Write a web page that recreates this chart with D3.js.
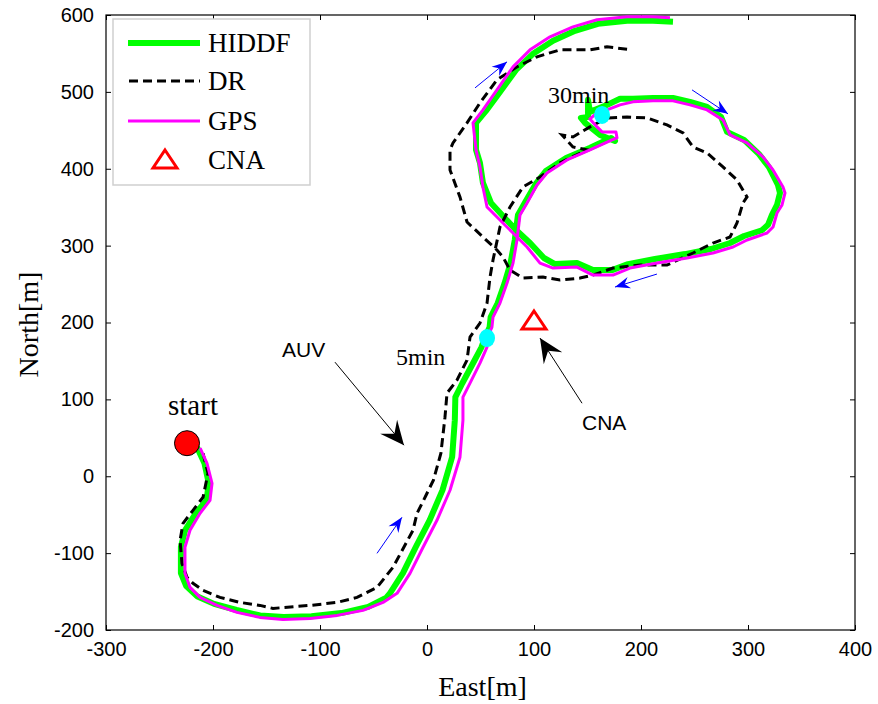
<!DOCTYPE html>
<html>
<head>
<meta charset="utf-8">
<script src="https://cdn.jsdelivr.net/npm/d3@7"></script>
<style>
body { margin: 0; background: #fff; }
</style>
</head>
<body>
<div id="chart"></div>
<script>
// tracks in metres [East, North]
const hiddfTrack = [
  [-215,38],[-208,17],[-204,-9],[-206,-31],[-216,-48],[-226,-70],[-230,-92],[-230,-126],
  [-225,-143],[-215,-156],[-199,-166],[-178,-174],[-156,-181],[-134,-183],[-108,-182],[-80,-178],
  [-55,-170],[-38,-158],[-34.5,-152],[-22.5,-126],[-10.5,-92],[2.5,-57],[14.5,-18],[23.5,25],
  [26,73],[26.5,103],[33,121],[43,147],[51,168],[54,180],[58.5,194],[59.5,207],[66,225],
  [72.5,251],[78,277],[82,307],[85,340],[92,357],[102,381],[111,397],[130,414],[152,427],
  [172,440],[175.7,436.2],[161.7,444],[147.7,459.6],[143.9,466.1],[150.5,467.4],[150.5,489.6],
  [152.3,474],[166.4,481.8],[180.4,491],[192.5,491],[211.2,492],[229.9,492],[245.8,487],
  [261.7,480.5],[274.8,467.5],[280.4,448],[296.3,437.5],[310.3,419],[319.6,402],[328,379],
  [329.9,368.5],[327.1,353],[322.4,340],[318.7,327],[313,320],[296.3,312.5],[283.2,303.4],
  [265.4,295.6],[241.1,289],[213,282.6],[187.9,276],[172.9,268.2],[155.1,268.2],[140.2,277.3],
  [119.6,276],[109.3,283.9],[96.3,303.4],[83.2,320.3],[71,338.5],[59.8,355.5],[52.3,381.5],
  [49.5,407.6],[45.8,424.5],[45.8,459.6],[55.1,475.3],[68.2,500],[83.2,528.6],[99.1,549.5],
  [117.8,566.4],[138.3,579.4],[159.8,588.5],[187,592.4],[211.2,592.4],[229.9,591.1]
]

const drTrack = [
  [-209.3,29.9],[-204.7,3.9],[-209.3,-27.3],[-218.7,-44.3],[-228,-61.2],[-230.8,-83.3],
  [-229,-113.3],[-224.3,-131.5],[-218.7,-139.3],[-209.3,-148.4],[-193.5,-157.6],[-174.8,-164.1],
  [-156.1,-168],[-143.9,-171.9],[-109.3,-168],[-84.1,-164.1],[-65.4,-157.6],[-46.7,-144.5],
  [-31.8,-118.5],[-13.1,-70.3],[-9.3,-48.2],[-1,-25],[6,-5],[13,30],[16.8,76.8],[18.7,108.1],
  [28,125],[37.4,151],[40.2,181],[49.5,199.2],[56.1,225.3],[58.9,259.1],[61.7,281.3],
  [68.2,324.2],[77.6,350.3],[89.7,376.3],[105.6,389.3],[124.3,407.6],[149.5,424.5],
  [136.4,428.4],[126.2,444],[136.4,441.4],[152.3,454.4],[168.2,466.1],[186.9,467.4],
  [205.6,466.1],[224.3,457],[239.3,446.6],[248.6,428.4],[261.7,420.6],[276.6,402.3],
  [289.7,385.4],[299.1,363.3],[295.3,355.5],[289.7,329.4],[283.2,311.2],[267.3,303.4],
  [248.6,290.4],[224.3,274.7],[199.1,274.7],[173.8,270.8],[155.1,261.7],[143,257.8],
  [124.3,255.2],[108.4,259.1],[89.7,257.8],[77.6,268.2],[71,285.2],[65.4,294.3],[52.3,311.2],
  [37.4,330.7],[30.8,363.3],[21.5,398.4],[21.5,424.5],[24.3,433.6],[37.4,459.6],[49.5,485.7],
  [65.4,515.6],[84.1,532.6],[102.8,545.6],[124.3,554.7],[152.3,554.7],[168.2,558.6],[191.6,554.7]
]

const gpsTrack = [
  [-212,36.5],[-205.6,16.9],[-200.9,-9.1],[-202.8,-31.3],[-212.1,-48.2],[-221.5,-70.3],
  [-226.2,-92.4],[-226.2,-126.3],[-221.5,-144.5],[-212.1,-157.6],[-196.3,-168],[-177.6,-177.1],
  [-156.1,-183.6],[-134.6,-186.2],[-109.3,-184.9],[-84.1,-181],[-59.8,-174.5],[-41.1,-164.1],
  [-28,-152.3],[-15.9,-126.3],[-3.7,-92.4],[9.3,-57.3],[21.5,-18.2],[30.8,24.7],[33.6,72.9],
  [33.6,102.9],[40.2,121.1],[49.5,147.1],[56.1,168],[56.1,179.7],[60.7,194],[61.7,207],
  [68.2,225.3],[74.8,251.3],[80.4,277.3],[84.1,307.3],[86.9,339.8],[93.5,355.5],[102.8,378.9],
  [112.1,394.5],[130.8,411.5],[152.3,424.5],[172.9,437.5],[177.6,440.1],[176.6,447.9],
  [163.6,447.9],[158.9,454.4],[152.3,464.8],[158.9,472.7],[168.2,476.6],[180.4,483.1],
  [192.5,487],[211.2,488.3],[229.9,488.3],[245.8,483.1],[261.7,476.6],[276.6,463.5],
  [283.2,444],[299.1,433.6],[314,415.4],[323.4,398.4],[332.7,376.3],[334.6,368.5],
  [331.8,352.9],[327.1,342.4],[323.4,324.2],[317.8,316.4],[299.1,307.3],[286,298.2],
  [267.3,290.4],[243,283.9],[215,277.3],[189.7,270.8],[173.8,261.7],[155.1,261.7],
  [140.2,272.1],[117.8,270.8],[105.6,277.3],[93.5,298.2],[80.4,316.4],[68.2,333.3],
  [56.1,350.3],[52.3,376],[49.5,402.3],[45.8,424.5],[43,459.6],[52.3,476.6],[65.4,502.6],
  [80.4,532.6],[96.3,554.7],[115,571.6],[136.4,584.6],[158.9,593.8],[187,597.7],[211.2,597.7],
  [227.1,596.4]
]

const startPoint = [-224.3, 43]
const cnaPoint = [100, 202]
const timeMarks = [[56.1, 179.7], [163.6, 470]]

const xTicks = [-300, -200, -100, 0, 100, 200, 300, 400]
const yTicks = [-200, -100, 0, 100, 200, 300, 400, 500, 600]

const legendNames = ['HIDDF', 'DR', 'GPS', 'CNA']

// text notes: [label, east, north, font]
const notes = [
  ['start', -218.7, 79.4, 'serif'],
  ['5min', -29, 144.5, 'serif'],
  ['30min', 113.1, 485.7, 'serif'],
  ['AUV', -135.5, 155, 'sans'],
  ['CNA', 144.9, 60, 'sans']
]
// pointer arrows [from, to]
const blackArrows = [
  [[-86, 148.4], [-21.5, 40.4]],
  [[144.9, 95], [105.6, 179.7]]
]
const blueArrows = [
  [[-46.7, -100.3], [-23.4, -53.4]],
  [[44.9, 505.2], [74.8, 539.1]],
  [[247.7, 502.6], [281.3, 471.4]],
  [[214.9, 263], [175.7, 246.1]]
]

const width = 878
const height = 704
const serif = '"Liberation Serif", "Times New Roman", serif'
const sans = '"Liberation Sans", Arial, sans-serif'

const svg = d3.select('#chart').append('svg')
    .attr('width', width)
    .attr('height', height)
    .style('background', '#fff')

const x = d3.scaleLinear().domain([-300, 400]).range([106, 855])
const y = d3.scaleLinear().domain([-200, 600]).range([630, 15])

const defs = svg.append('defs')
defs.append('marker')
    .attr('id', 'headBlack')
    .attr('markerUnits', 'userSpaceOnUse')
    .attr('viewBox', '-26 -13 28 26')
    .attr('markerWidth', 28).attr('markerHeight', 26)
    .attr('refX', 0).attr('refY', 0)
    .attr('orient', 'auto')
    .append('path')
    .attr('d', 'M0,0 L-24,-11 L-15,0 L-24,11 Z')
    .attr('fill', 'black')
defs.append('marker')
    .attr('id', 'headBlue')
    .attr('markerUnits', 'userSpaceOnUse')
    .attr('viewBox', '-16 -7 18 14')
    .attr('markerWidth', 18).attr('markerHeight', 14)
    .attr('refX', 0).attr('refY', 0)
    .attr('orient', 'auto')
    .append('path')
    .attr('d', 'M0,0 L-15,-6 L-10,0 L-15,6 Z')
    .attr('fill', '#0000ff')

// axes (MATLAB style box, ticks inside)
const fmt = d => String(d)
svg.append('g')
    .attr('transform', 'translate(0,' + y(-200) + ')')
    .call(d3.axisBottom(x).tickValues(xTicks).tickSizeInner(-5).tickSizeOuter(0).tickPadding(12).tickFormat(fmt))
svg.append('g')
    .attr('transform', 'translate(' + x(-300) + ',0)')
    .call(d3.axisLeft(y).tickValues(yTicks).tickSizeInner(-5).tickSizeOuter(0).tickPadding(12).tickFormat(fmt))
svg.append('g')
    .attr('transform', 'translate(0,' + y(600) + ')')
    .call(d3.axisTop(x).tickValues(xTicks).tickSizeInner(-5).tickSizeOuter(0).tickFormat(''))
svg.append('g')
    .attr('transform', 'translate(' + x(400) + ',0)')
    .call(d3.axisRight(y).tickValues(yTicks).tickSizeInner(-5).tickSizeOuter(0).tickFormat(''))
svg.selectAll('.domain').remove()
svg.selectAll('.tick line').attr('stroke', '#000')
svg.selectAll('.tick text')
    .attr('font-family', sans)
    .attr('font-size', 20)
    .attr('fill', '#000')

svg.append('rect')
    .attr('x', x(-300)).attr('y', y(600))
    .attr('width', x(400) - x(-300)).attr('height', y(-200) - y(600))
    .attr('fill', 'none')
    .attr('stroke', '#000')
    .attr('stroke-width', 1.2)

svg.append('text')
    .attr('x', (x(-300) + x(400)) / 2 + 2)
    .attr('y', 696)
    .attr('text-anchor', 'middle')
    .attr('font-family', serif)
    .attr('font-size', 28)
    .text('East[m]')
svg.append('text')
    .attr('transform', 'translate(38,' + ((y(600) + y(-200)) / 2 + 2) + ') rotate(-90)')
    .attr('text-anchor', 'middle')
    .attr('font-family', serif)
    .attr('font-size', 28)
    .text('North[m]')

// tracks
const line = d3.line()
    .x(d => x(d[0]))
    .y(d => y(d[1]))

svg.append('path')
    .datum(hiddfTrack)
    .attr('d', line)
    .attr('fill', 'none')
    .attr('stroke', '#00ff00')
    .attr('stroke-width', 6)
    .attr('stroke-linejoin', 'round')
svg.append('path')
    .datum(drTrack)
    .attr('d', line)
    .attr('fill', 'none')
    .attr('stroke', '#000')
    .attr('stroke-width', 3)
    .attr('stroke-dasharray', '9,5')
svg.append('path')
    .datum(gpsTrack)
    .attr('d', line)
    .attr('fill', 'none')
    .attr('stroke', '#ff00ff')
    .attr('stroke-width', 3)
    .attr('stroke-linejoin', 'round')

// time marks
svg.selectAll('.tmark')
    .data(timeMarks)
    .enter().append('ellipse')
    .attr('class', 'tmark')
    .attr('cx', d => x(d[0]))
    .attr('cy', d => y(d[1]))
    .attr('rx', 8).attr('ry', 9)
    .attr('fill', '#00ffff')

// start point
svg.append('circle')
    .attr('cx', x(startPoint[0]))
    .attr('cy', y(startPoint[1]))
    .attr('r', 12.5)
    .attr('fill', '#ff0000')
    .attr('stroke', '#000')
    .attr('stroke-width', 1)

// CNA
const triPath = 'M0,-10 L12,8 L-12,8 Z'
svg.append('path')
    .attr('transform', 'translate(' + x(cnaPoint[0]) + ',' + y(cnaPoint[1]) + ')')
    .attr('d', triPath)
    .attr('fill', 'none')
    .attr('stroke', '#ff0000')
    .attr('stroke-width', 3)

// annotations
svg.selectAll('.barrow')
    .data(blackArrows)
    .enter().append('line')
    .attr('x1', d => x(d[0][0])).attr('y1', d => y(d[0][1]))
    .attr('x2', d => x(d[1][0])).attr('y2', d => y(d[1][1]))
    .attr('stroke', '#000')
    .attr('stroke-width', 1)
    .attr('marker-end', 'url(#headBlack)')
svg.selectAll('.blarrow')
    .data(blueArrows)
    .enter().append('line')
    .attr('x1', d => x(d[0][0])).attr('y1', d => y(d[0][1]))
    .attr('x2', d => x(d[1][0])).attr('y2', d => y(d[1][1]))
    .attr('stroke', '#0000ff')
    .attr('stroke-width', 1)
    .attr('marker-end', 'url(#headBlue)')

svg.selectAll('.note')
    .data(notes)
    .enter().append('text')
    .attr('x', d => x(d[1]))
    .attr('y', d => y(d[2]))
    .attr('text-anchor', d => d[0] === 'start' ? 'middle' : 'start')
    .attr('font-family', d => d[3] === 'serif' ? serif : sans)
    .attr('font-size', d => d[0] === 'start' ? 29 : (d[3] === 'serif' ? 24 : 21))
    .text(d => d[0])

// legend
const legend = svg.append('g')
legend.append('rect')
    .attr('x', 113).attr('y', 19)
    .attr('width', 197).attr('height', 166)
    .attr('fill', '#fff')
    .attr('stroke', '#cfcfcf')
    .attr('stroke-width', 1.5)
const rowY = [43, 81, 121, 160]
legendNames.forEach((name, i) => {
    const g = legend.append('g').attr('transform', 'translate(0,' + rowY[i] + ')')
    if (name === 'HIDDF') {
        g.append('line').attr('x1', 128).attr('x2', 200).attr('stroke', '#00ff00').attr('stroke-width', 6)
    } else if (name === 'DR') {
        g.append('line').attr('x1', 129).attr('x2', 200).attr('stroke', '#000').attr('stroke-width', 3).attr('stroke-dasharray', '9,5')
    } else if (name === 'GPS') {
        g.append('line').attr('x1', 128).attr('x2', 200).attr('stroke', '#ff00ff').attr('stroke-width', 3)
    } else {
        g.append('path').attr('transform', 'translate(165,0)').attr('d', triPath)
            .attr('fill', 'none').attr('stroke', '#ff0000').attr('stroke-width', 3)
    }
    g.append('text')
        .attr('x', 208).attr('y', 9)
        .attr('font-family', serif)
        .attr('font-size', 27)
        .text(name)
})
</script>
</body>
</html>
